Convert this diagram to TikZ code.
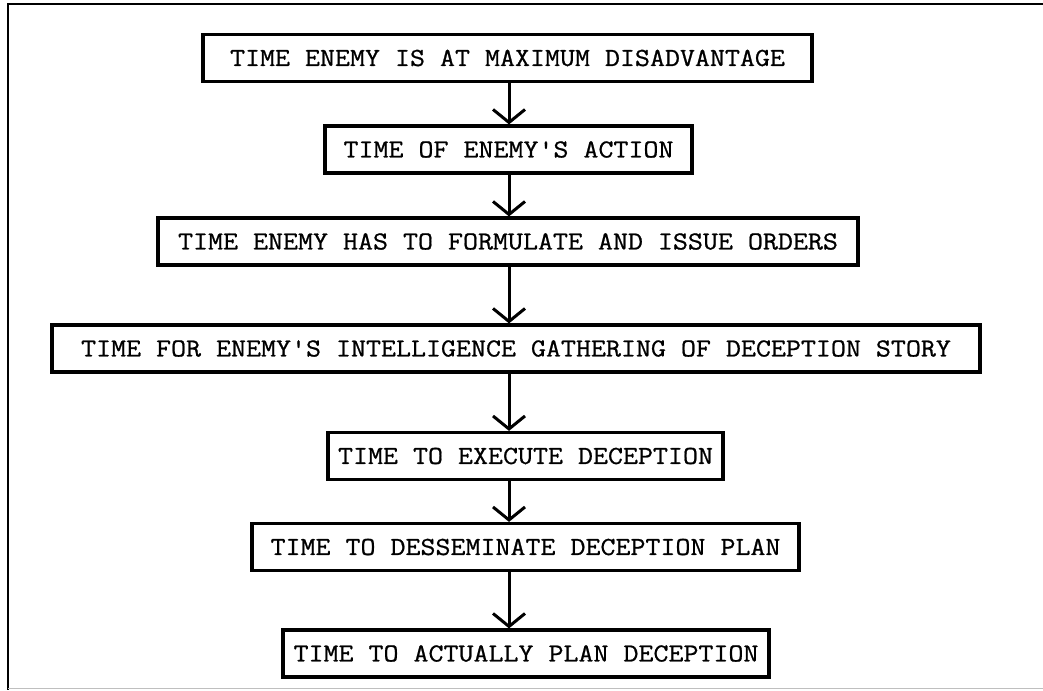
\documentclass[tikz,border=0pt]{standalone}
\usepackage{fontspec}
\newfontfamily\boxfont[FakeStretch=1.12, FakeBold=0.8]{Latin Modern Mono}
\usetikzlibrary{arrows.meta}
\tikzset{>={Straight Barb[length=13pt,width=32pt]}}
\tikzset{%
  timebox/.style={draw=black, line width=3.2pt, minimum height=47pt,
    inner sep=0pt, font=\boxfont\fontsize{26}{30}\selectfont},
  flow/.style={->, line width=3pt},
  frame/.style={line width=2.8pt}
}

\begin{document}
\begin{tikzpicture}[x=1pt, y=-1pt]

  \useasboundingbox (0,0) rectangle (1043,690);

  % outer frame (top and left edges, faint bottom edge)
  \coordinate (TL) at (8,4);
  \coordinate (TR) at (1043,4);
  \coordinate (BL) at (8,690);
  \coordinate (BR) at (1043,688);
  \draw [frame] (TR) -- (TL) -- (BL);
  \draw [black!25, line width=1pt] (BL |- BR) -- (BR);

  % the boxes, top to bottom
  \node [timebox, minimum width=609pt] (maxdis) at (507.5,58) {TIME ENEMY IS AT MAXIMUM DISADVANTAGE};
  \node [timebox, minimum width=367pt] (action) at (508.5,149.5) {TIME OF ENEMY'S ACTION};
  \node [timebox, minimum width=700pt] (orders) at (508,241.5) {TIME ENEMY HAS TO FORMULATE AND ISSUE ORDERS};
  \node [timebox, minimum width=928pt] (intel) at (516,348.5) {TIME FOR ENEMY'S INTELLIGENCE GATHERING OF DECEPTION STORY};
  \node [timebox, minimum width=395pt] (execute) at (525.5,456) {TIME TO EXECUTE DECEPTION};
  \node [timebox, minimum width=547pt] (dissem) at (525.5,547) {TIME TO DESSEMINATE DECEPTION PLAN};
  \node [timebox, minimum width=486pt] (plan) at (526,653.5) {TIME TO ACTUALLY PLAN DECEPTION};

  % the arrows run down one column
  \coordinate (spine) at (509,0);
  \draw [flow] (maxdis.south -| spine) -- (action.north -| spine);
  \draw [flow] (action.south -| spine) -- (orders.north -| spine);
  \draw [flow] (orders.south -| spine) -- (intel.north -| spine);
  \draw [flow] (intel.south -| spine) -- (execute.north -| spine);
  \draw [flow] (execute.south -| spine) -- (dissem.north -| spine);
  \draw [flow] (dissem.south -| spine) -- (plan.north -| spine);

\end{tikzpicture}
\end{document}
